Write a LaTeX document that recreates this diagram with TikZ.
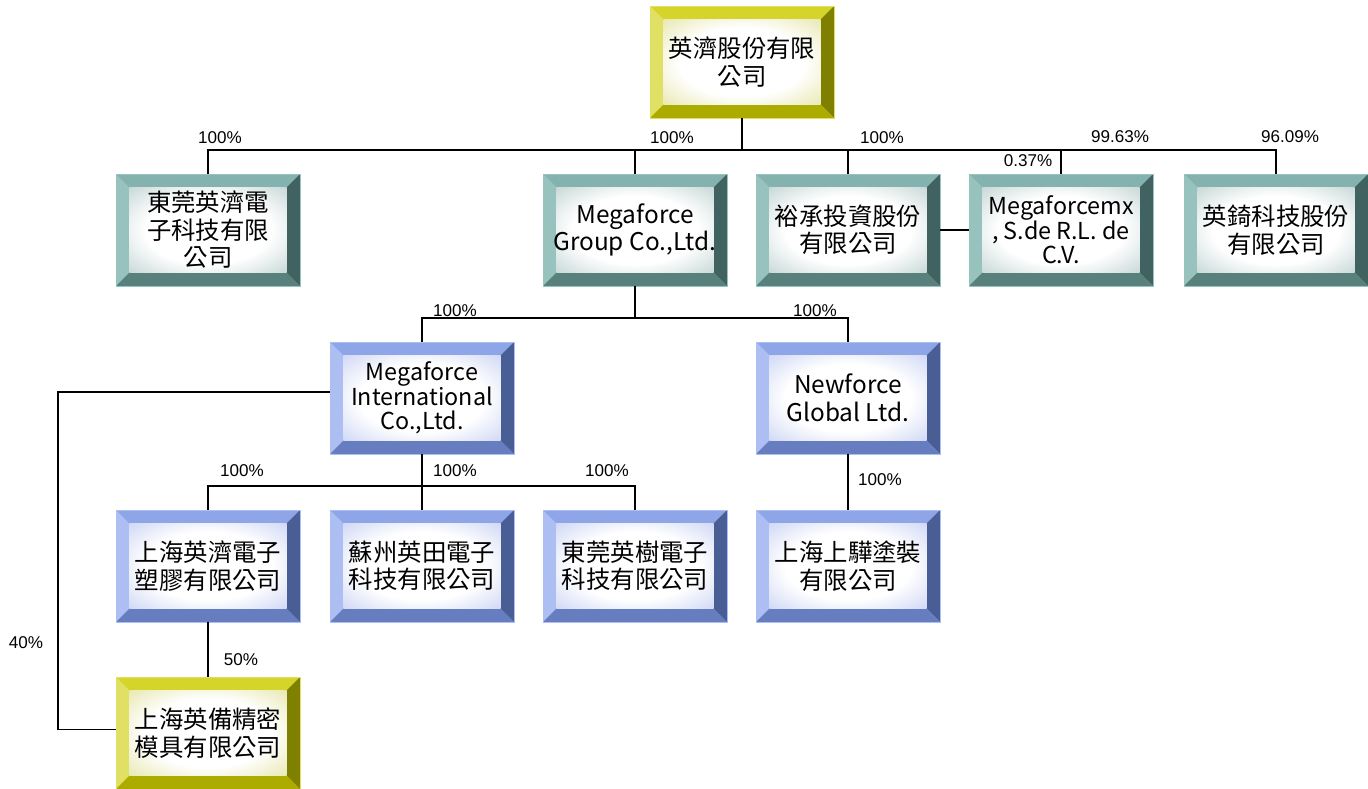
\documentclass[tikz,border=0pt]{standalone}
\usepackage{fontspec}
\setmainfont{Noto Sans CJK TC}
\newfontfamily\pctfont{Liberation Sans}
\usepackage{tikz}
\usetikzlibrary{calc}

\definecolor{ylwT}{RGB}{212,212,42}
\definecolor{ylwL}{RGB}{224,224,100}
\definecolor{ylwR}{RGB}{128,128,0}
\definecolor{ylwB}{RGB}{172,172,0}
\definecolor{ylwI}{RGB}{200,200,70}
\definecolor{telT}{RGB}{132,178,174}
\definecolor{telL}{RGB}{152,194,190}
\definecolor{telR}{RGB}{64,98,96}
\definecolor{telB}{RGB}{88,128,125}
\definecolor{telI}{RGB}{120,160,158}
\definecolor{bluT}{RGB}{142,166,232}
\definecolor{bluL}{RGB}{172,190,242}
\definecolor{bluR}{RGB}{74,94,150}
\definecolor{bluB}{RGB}{102,126,192}
\definecolor{bluI}{RGB}{140,160,230}
\colorlet{glowcol}{white}
\pgfdeclareradialshading[glowcol]{innerglow}{\pgfpoint{0bp}{0bp}}{color(0bp)=(white); color(20bp)=(white); color(58bp)=(glowcol); color(72bp)=(glowcol)}
\newcommand{\bevw}{10pt}

\begin{document}
\begin{tikzpicture}[x=0.75pt, y=-0.75pt,
    boxcol/.code={\def\bcol{#1}},
    orgbox/.style={boxcol=#1, fill=#1T, draw=#1L, line width=0.4pt,
      minimum width=138pt, minimum height=84pt, inner sep=0pt, align=center,
      font=\fontsize{18.3}{20.6}\selectfont,
      path picture={
        \path (path picture bounding box.north west) coordinate (pnw)
              (path picture bounding box.north east) coordinate (pne)
              (path picture bounding box.south east) coordinate (pse)
              (path picture bounding box.south west) coordinate (psw)
              ([shift={(\bevw,-\bevw)}]pnw) coordinate (qnw)
              ([shift={(-\bevw,-\bevw)}]pne) coordinate (qne)
              ([shift={(-\bevw,\bevw)}]pse) coordinate (qse)
              ([shift={(\bevw,\bevw)}]psw) coordinate (qsw);
        \fill[\bcol T] (pnw) -- (pne) -- (qne) -- (qnw) -- cycle;
        \fill[\bcol L] (pnw) -- (qnw) -- (qsw) -- (psw) -- cycle;
        \fill[\bcol R] (pne) -- (pse) -- (qse) -- (qne) -- cycle;
        \fill[\bcol B] (psw) -- (qsw) -- (qse) -- (pse) -- cycle;
        \colorlet{glowcol}{\bcol I}
        \shade[shading=innerglow] (qsw) rectangle (qne);
      }},
    tight/.style={font=\fontsize{17.5}{18.5}\selectfont},
    link/.style={line width=1.1pt},
    pct/.style={font=\pctfont\fontsize{12.8}{15}\selectfont, inner sep=1pt}]
    \useasboundingbox (0,0) rectangle (1368,789);

    \node[orgbox=ylw] (ijc) at (742,62) {英濟股份有限\\公司};
    \node[orgbox=tel] (dgij) at (208,230) {東莞英濟電\\子科技有限\\公司};
    \node[orgbox=tel] (mgg) at (635,230) {Megaforce\\Group Co.,Ltd.};
    \node[orgbox=tel] (yc) at (848,230) {裕承投資股份\\有限公司};
    \node[orgbox=tel, tight] (mfx) at (1061,230) {Megaforcemx\\, S.de R.L. de\\C.V.};
    \node[orgbox=tel] (yq) at (1276,230) {英錡科技股份\\有限公司};
    \node[orgbox=blu, tight] (mgi) at (422,398) {Megaforce\\International\\Co.,Ltd.};
    \node[orgbox=blu] (nfg) at (848,398) {Newforce\\Global Ltd.};
    \node[orgbox=blu] (shij) at (208,566) {上海英濟電子\\塑膠有限公司};
    \node[orgbox=blu] (szyt) at (422,566) {蘇州英田電子\\科技有限公司};
    \node[orgbox=blu] (dgys) at (635,566) {東莞英樹電子\\科技有限公司};
    \node[orgbox=blu] (shsh) at (848,566) {上海上驊塗裝\\有限公司};
    \node[orgbox=ylw] (shyb) at (208,733) {上海英備精密\\模具有限公司};

    \coordinate (busA) at (742,150);
    \coordinate (busB) at (635,318);
    \coordinate (busC) at (422,486);
    \coordinate (c40) at (58,560);

    \draw[link] (ijc.south) -- (busA)
                (busA) -| (dgij.north)
                (busA) -| (mgg.north)
                (busA) -| (yc.north)
                (busA) -| (mfx.north)
                (busA) -| (yq.north);
    \draw[link] (yc.east) -- (mfx.west);
    \draw[link] (mgg.south) -- (busB)
                (busB) -| (mgi.north)
                (busB) -| (nfg.north);
    \draw[link] (mgi.south) -- (busC)
                (busC) -| (shij.north)
                (busC) -- (szyt.north)
                (busC) -| (dgys.north);
    \draw[link] (nfg.south) -- (shsh.north);
    \draw[link] (shij.south) -- (shyb.north);
    \draw[link] ([yshift=4.5pt]mgi.west) -| (c40) |- ([yshift=2.5pt]shyb.west);

    \node[pct] (p1) at (220,138) {100\%};
    \node[pct] (p2) at (672,138) {100\%};
    \node[pct] (p3) at (882,138) {100\%};
    \node[pct] (p4) at (1120,137) {99.63\%};
    \node[pct] (p5) at (1290,137) {96.09\%};
    \node[pct] (p6) at (1028,161) {0.37\%};
    \node[pct] (p7) at (455,311) {100\%};
    \node[pct] (p8) at (815,311) {100\%};
    \node[pct] (p9) at (242,471) {100\%};
    \node[pct] (p10) at (455,471) {100\%};
    \node[pct] (p11) at (607,471) {100\%};
    \node[pct] (p12) at (880,480) {100\%};
    \node[pct] (p13) at (26,643) {40\%};
    \node[pct] (p14) at (241,660) {50\%};
\end{tikzpicture}
\end{document}
